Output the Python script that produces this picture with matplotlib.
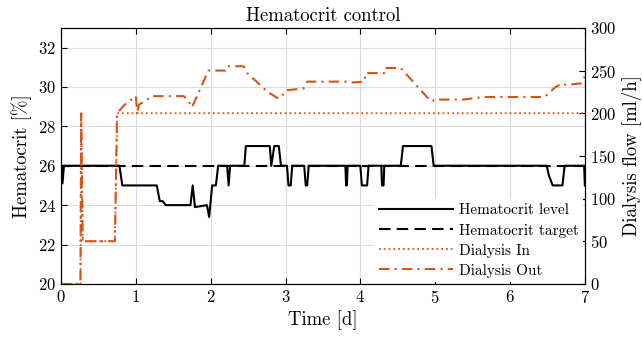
import numpy as np
import matplotlib
matplotlib.use("Agg")
import matplotlib.pyplot as plt

plt.rcParams['font.family'] = 'serif'
plt.rcParams['font.serif'] = ['cmr10', 'DejaVu Serif']
plt.rcParams['mathtext.fontset'] = 'cm'
plt.rcParams['axes.formatter.use_mathtext'] = True

orange = '#D95319'

# hematocrit level [%] vs time [d]
t_hct = [0.0, 0.01, 0.02, 0.04, 0.78, 0.82, 1.28, 1.32, 1.36, 1.40, 1.73, 1.76, 1.79, 1.95, 1.98,
         2.02, 2.07, 2.10, 2.22, 2.24, 2.26, 2.45, 2.47, 2.79, 2.81, 2.85, 2.91, 2.94,
         3.02, 3.04, 3.07, 3.09, 3.25, 3.27, 3.29, 3.31, 3.80, 3.81, 3.82, 3.83,
         4.00, 4.02, 4.09, 4.11, 4.28, 4.29, 4.31, 4.32, 4.54, 4.57, 4.95, 4.98,
         6.49, 6.52, 6.57, 6.70, 6.73, 6.99, 7.0]
hct = [26.0, 26.0, 25.1, 26.0, 26.0, 25.0, 25.0, 24.2, 24.2, 24.0, 24.0, 25.0, 23.9, 24.0, 23.4,
       25.0, 25.0, 26.0, 26.0, 25.0, 26.0, 26.0, 27.0, 27.0, 26.0, 27.0, 27.0, 26.0,
       26.0, 25.0, 25.0, 26.0, 26.0, 25.0, 25.0, 26.0, 26.0, 25.0, 25.0, 26.0,
       26.0, 25.0, 25.0, 26.0, 26.0, 25.0, 25.0, 26.0, 26.0, 27.0, 27.0, 26.0,
       26.0, 25.5, 25.0, 25.0, 26.0, 26.0, 25.0]

t_target = [0.0, 7.0]
hct_target = [26.0, 26.0]

# dialysis flows [ml/h]
t_in = [0.0, 0.26, 0.27, 0.29, 0.72, 0.75, 7.0]
flow_in = [0, 0, 200, 50, 50, 200, 200]

t_out = [0.0, 0.26, 0.27, 0.29, 0.72, 0.75, 0.85, 1.0, 1.02, 1.04, 1.12, 1.21, 1.64, 1.70, 1.75,
         1.97, 2.20, 2.22, 2.44, 2.49, 2.76, 2.91, 3.02, 3.24, 3.29, 3.86, 3.90, 4.05, 4.07,
         4.32, 4.33, 4.54, 4.58, 4.90, 4.97, 4.98, 5.38, 5.64, 6.46, 6.60, 6.69, 6.75, 6.95, 7.0]
flow_out = [0, 0, 200, 50, 50, 200, 210, 220, 198, 210, 214, 220, 220, 215, 207,
            250, 250, 255, 255, 247, 225, 217, 227, 229, 237, 237, 236, 237, 247,
            247, 253, 253, 249, 218, 214, 216, 216, 219, 219, 230, 235, 233, 235, 243]

fig = plt.figure(figsize=(6.42, 3.4), dpi=100)
ax = fig.add_axes([0.095, 0.165, 0.816, 0.753])
ax2 = ax.twinx()

l1, = ax.plot(t_hct, hct, '-', color='k', lw=1.5, label='Hematocrit level')
l2, = ax.plot(t_target, hct_target, color='k', lw=1.5, dashes=(5.5, 3), label='Hematocrit target')
l3, = ax2.plot(t_in, flow_in, ':', color=orange, lw=1.3, label='Dialysis In')
l4, = ax2.plot(t_out, flow_out, color=orange, lw=1.5, dashes=(5, 2.5, 1, 2.5), label='Dialysis Out')

ax.set_xlim(0, 7)
ax.set_ylim(20, 33)
ax.set_yticks(np.arange(20, 33, 2))
ax.set_xticks(range(0, 8))
ax2.set_ylim(0, 300)
ax2.set_yticks(range(0, 301, 50))

ax.grid(True, color='#dcdcdc', lw=0.8)
ax.set_axisbelow(True)
for a in (ax, ax2):
    a.tick_params(direction='in', labelsize=12, length=4)
    for s in a.spines.values():
        s.set_linewidth(0.8)
ax.tick_params(axis='x', top=True)
ax.tick_params(axis='y', right=False)

ax.set_title('Hematocrit control', fontsize=13.5, pad=5)
ax.set_xlabel('Time [d]', fontsize=13.5, labelpad=3)
ax.set_ylabel('Hematocrit [%]', fontsize=13.5)
ax2.set_ylabel('Dialysis flow [ml/h]', fontsize=13.5)

leg = ax2.legend(handles=[l1, l2, l3, l4], loc='lower right', borderaxespad=0.1,
                 fontsize=11, handlelength=4.8, labelspacing=0.4, fancybox=False,
                 framealpha=1, edgecolor='none', borderpad=0.3, handletextpad=0.4)

fig.savefig('out.png', dpi=100)
